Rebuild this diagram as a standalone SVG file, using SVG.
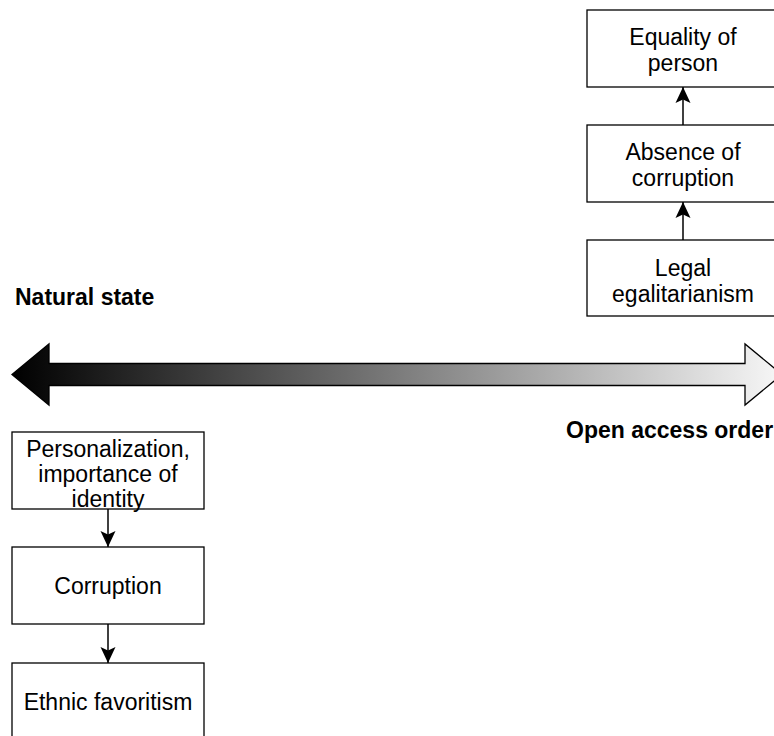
<svg xmlns="http://www.w3.org/2000/svg" width="774" height="736" viewBox="0 0 774 736">
  <style>
    .box { fill: #ffffff; stroke: #000000; stroke-width: 1.3; }
    .lbl { font-family: "Liberation Sans", Arial, sans-serif; font-size: 23px; fill: #000000; text-anchor: middle; }
    .ttl { font-family: "Liberation Sans", Arial, sans-serif; font-size: 23px; font-weight: bold; fill: #000000; }
    .conn { stroke: #000000; stroke-width: 1.5; fill: none; }
  </style>
  <defs>
    <linearGradient id="grad" gradientUnits="userSpaceOnUse" x1="12" y1="0" x2="782" y2="0">
      <stop offset="0" stop-color="#000000"/>
      <stop offset="1" stop-color="#f7f7f7"/>
    </linearGradient>
    <marker id="ah" viewBox="0 0 17 16" refX="16.5" refY="8" markerWidth="17" markerHeight="16" markerUnits="userSpaceOnUse" orient="auto">
      <path d="M16.5,8 L0.5,0.5 L4,8 L0.5,15.5 Z" fill="#000000"/>
    </marker>
  </defs>

  <rect width="774" height="736" fill="#ffffff"/>

  <g id="spectrum">
    <path d="M12,374.5 L49,344 L49,363.5 L745,363.5 L745,344 L782,374.5 L745,405 L745,385.5 L49,385.5 L49,405 Z" fill="url(#grad)" stroke="#000000" stroke-width="1.3" stroke-linejoin="miter"/>
  </g>

  <g id="natural-state">
    <text class="ttl" x="15" y="305">Natural state</text>
  </g>
  <g id="open-access-order">
    <text class="ttl" x="566" y="438">Open access order</text>
  </g>

  <g id="equality-of-person">
    <rect class="box" x="587" y="10" width="192" height="77"/>
    <text class="lbl" x="683" y="45">Equality of</text>
    <text class="lbl" x="683" y="71">person</text>
  </g>
  <g id="absence-of-corruption">
    <rect class="box" x="587" y="125" width="192" height="77"/>
    <text class="lbl" x="683" y="160">Absence of</text>
    <text class="lbl" x="683" y="186">corruption</text>
  </g>
  <g id="legal-egalitarianism">
    <rect class="box" x="587" y="240" width="192" height="76"/>
    <text class="lbl" x="683" y="276">Legal</text>
    <text class="lbl" x="683" y="302">egalitarianism</text>
  </g>

  <g id="personalization">
    <rect class="box" x="12" y="432" width="192" height="77"/>
    <text class="lbl" x="108" y="457">Personalization,</text>
    <text class="lbl" x="108" y="482">importance of</text>
    <text class="lbl" x="108" y="507">identity</text>
  </g>
  <g id="corruption">
    <rect class="box" x="12" y="547" width="192" height="77"/>
    <text class="lbl" x="108" y="594">Corruption</text>
  </g>
  <g id="ethnic-favoritism">
    <rect class="box" x="12" y="663" width="192" height="77"/>
    <text class="lbl" x="108" y="710">Ethnic favoritism</text>
  </g>

  <g id="connectors">
    <line class="conn" x1="683" y1="240" x2="683" y2="202" marker-end="url(#ah)"/>
    <line class="conn" x1="683" y1="125" x2="683" y2="87" marker-end="url(#ah)"/>
    <line class="conn" x1="108" y1="509" x2="108" y2="547" marker-end="url(#ah)"/>
    <line class="conn" x1="108" y1="624" x2="108" y2="663" marker-end="url(#ah)"/>
  </g>
</svg>
